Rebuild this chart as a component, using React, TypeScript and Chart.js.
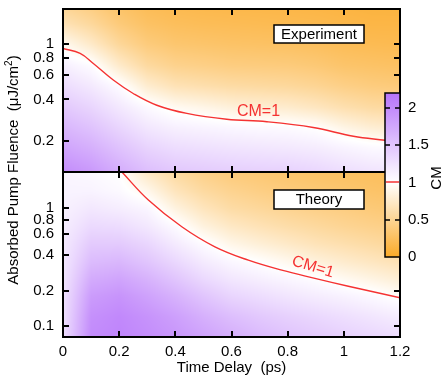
import React, { useEffect, useRef } from 'react';
import { Chart, registerables } from 'chart.js';

Chart.register(...registerables);

// ---------------- data ----------------
const timeDelays = [0, 0.1, 0.2, 0.3, 0.4, 0.5, 0.6, 0.7, 0.8, 0.9, 1.0, 1.1, 1.2];
const fluenceRows = [2, 1.4, 1, 0.7, 0.5, 0.35, 0.25, 0.18, 0.12, 0.08];

// CM values, one row per fluence (rows follow fluenceRows), columns follow timeDelays
const experimentCM = [
  [0.46, 0.38, 0.27, 0.20, 0.17, 0.155, 0.145, 0.14, 0.135, 0.125, 0.11, 0.10, 0.095],
  [0.66, 0.54, 0.38, 0.28, 0.24, 0.22, 0.21, 0.20, 0.19, 0.18, 0.16, 0.14, 0.14],
  [0.93, 0.75, 0.53, 0.39, 0.33, 0.31, 0.29, 0.28, 0.27, 0.25, 0.22, 0.20, 0.19],
  [1.14, 1.03, 0.76, 0.56, 0.47, 0.44, 0.41, 0.40, 0.39, 0.36, 0.31, 0.29, 0.27],
  [1.30, 1.19, 1.03, 0.78, 0.66, 0.62, 0.58, 0.56, 0.54, 0.50, 0.44, 0.40, 0.38],
  [1.47, 1.36, 1.20, 1.05, 0.94, 0.89, 0.83, 0.80, 0.77, 0.71, 0.63, 0.57, 0.54],
  [1.63, 1.52, 1.36, 1.21, 1.13, 1.10, 1.07, 1.05, 1.04, 1.00, 0.88, 0.80, 0.76],
  [1.78, 1.68, 1.52, 1.37, 1.29, 1.26, 1.23, 1.21, 1.19, 1.16, 1.10, 1.05, 1.03],
  [1.98, 1.88, 1.71, 1.56, 1.48, 1.45, 1.42, 1.40, 1.39, 1.35, 1.29, 1.24, 1.22],
  [2.17, 2.07, 1.90, 1.76, 1.68, 1.65, 1.61, 1.60, 1.58, 1.54, 1.48, 1.44, 1.41],
];

const theoryCM = [
  [1.08, 1.05, 1.00, 0.73, 0.56, 0.45, 0.38, 0.35, 0.32, 0.29, 0.27, 0.25, 0.23],
  [1.10, 1.10, 1.05, 0.91, 0.69, 0.56, 0.48, 0.43, 0.39, 0.36, 0.33, 0.30, 0.28],
  [1.12, 1.20, 1.15, 1.08, 0.85, 0.69, 0.58, 0.53, 0.48, 0.44, 0.41, 0.37, 0.34],
  [1.15, 1.32, 1.30, 1.20, 1.04, 0.85, 0.73, 0.66, 0.60, 0.55, 0.50, 0.46, 0.43],
  [1.18, 1.45, 1.45, 1.35, 1.18, 1.03, 0.89, 0.81, 0.74, 0.67, 0.62, 0.57, 0.52],
  [1.20, 1.58, 1.62, 1.50, 1.34, 1.18, 1.07, 1.00, 0.92, 0.84, 0.77, 0.71, 0.65],
  [1.22, 1.72, 1.78, 1.66, 1.50, 1.33, 1.21, 1.14, 1.08, 1.02, 0.94, 0.87, 0.80],
  [1.24, 1.85, 1.92, 1.80, 1.66, 1.50, 1.36, 1.29, 1.22, 1.16, 1.11, 1.05, 0.97],
  [1.26, 1.95, 2.02, 1.93, 1.82, 1.68, 1.56, 1.47, 1.40, 1.34, 1.28, 1.22, 1.16],
  [1.28, 2.00, 2.05, 1.98, 1.90, 1.80, 1.70, 1.60, 1.52, 1.46, 1.40, 1.35, 1.30],
];

// CM = 1 contour lines
const expContourT = [0, 0.061, 0.108, 0.179, 0.25, 0.334, 0.441, 0.583, 0.726, 0.891, 1.034, 1.147, 1.2];
const expContourF = [0.93, 0.857, 0.726, 0.551, 0.441, 0.363, 0.317, 0.288, 0.276, 0.251, 0.217, 0.203, 0.197];
const theoryContourT = [0.209, 0.304, 0.423, 0.541, 0.66, 0.779, 0.897, 1.016, 1.2];
const theoryContourF = [2.03, 1.17, 0.695, 0.47, 0.362, 0.298, 0.254, 0.218, 0.174];

// ticks
const xTicks = [0, 0.2, 0.4, 0.6, 0.8, 1, 1.2];
const topYTicks = [0.2, 0.4, 0.6, 0.8, 1];
const bottomYTicks = [0.1, 0.2, 0.4, 0.6, 0.8, 1];
const colorbarTicks = [0, 0.5, 1, 1.5, 2];
const colorbarMax = 2.2;

const FONT = '"Liberation Sans", Arial, Helvetica, sans-serif';
const RED = 'rgb(245,50,50)';

// ---------------- helpers ----------------
const ORANGE = [251, 170, 40];
const PURPLE = [182, 115, 250];
function cmColor(v: number): number[] {
  if (v <= 1) {
    const t = Math.min(1, Math.max(0, 1 - v));
    return [255 + (ORANGE[0] - 255) * t, 255 + (ORANGE[1] - 255) * t, 255 + (ORANGE[2] - 255) * t];
  }
  const t = Math.min(1, (v - 1) / (colorbarMax - 1));
  return [255 + (PURPLE[0] - 255) * t, 255 + (PURPLE[1] - 255) * t, 255 + (PURPLE[2] - 255) * t];
}

const rowLogs = fluenceRows.map((f) => Math.log10(f));

function sampleGrid(grid: number[][], t: number, lf: number): number {
  const n = timeDelays.length;
  let i = 0;
  if (t <= timeDelays[0]) i = 0;
  else if (t >= timeDelays[n - 1]) i = n - 2;
  else while (i < n - 2 && timeDelays[i + 1] < t) i++;
  const tx = Math.min(1, Math.max(0, (t - timeDelays[i]) / (timeDelays[i + 1] - timeDelays[i])));
  const m = rowLogs.length;
  let j = 0;
  if (lf >= rowLogs[0]) j = 0;
  else if (lf <= rowLogs[m - 1]) j = m - 2;
  else while (j < m - 2 && rowLogs[j + 1] > lf) j++;
  const ty = Math.min(1, Math.max(0, (rowLogs[j] - lf) / (rowLogs[j] - rowLogs[j + 1])));
  const a = grid[j][i] * (1 - tx) + grid[j][i + 1] * tx;
  const b = grid[j + 1][i] * (1 - tx) + grid[j + 1][i + 1] * tx;
  return a * (1 - ty) + b * ty;
}

const heatmapPlugin = {
  id: 'heatmap',
  beforeDatasetsDraw(chart: any) {
    const ctx = chart.ctx;
    const xs = chart.scales.x;
    const panels = [
      { ys: chart.scales.yTop, grid: experimentCM },
      { ys: chart.scales.yBot, grid: theoryCM },
    ];
    for (const p of panels) {
      const left = Math.round(xs.left);
      const right = Math.round(xs.right);
      const top = Math.round(p.ys.top);
      const bottom = Math.round(p.ys.bottom);
      const w = right - left;
      const h = bottom - top;
      const off = document.createElement('canvas');
      off.width = w;
      off.height = h;
      const octx = off.getContext('2d')!;
      const img = octx.createImageData(w, h);
      for (let py = 0; py < h; py++) {
        const f = p.ys.getValueForPixel(top + py + 0.5);
        const lf = Math.log10(f);
        for (let px = 0; px < w; px++) {
          const t = xs.getValueForPixel(left + px + 0.5);
          const c = cmColor(sampleGrid(p.grid, t, lf));
          const k = (py * w + px) * 4;
          img.data[k] = c[0];
          img.data[k + 1] = c[1];
          img.data[k + 2] = c[2];
          img.data[k + 3] = 255;
        }
      }
      octx.putImageData(img, 0, 0);
      ctx.drawImage(off, left, top);
    }
  },
  afterDatasetsDraw(chart: any) {
    const ctx = chart.ctx;
    const xs = chart.scales.x;
    const yT = chart.scales.yTop;
    const yB = chart.scales.yBot;
    const L = xs.left;
    const R = xs.right;
    ctx.save();
    // tick marks (inward)
    ctx.strokeStyle = '#000';
    ctx.lineWidth = 2;
    const tl = 6;
    ctx.beginPath();
    const yPairs: [any, number[]][] = [[yT, topYTicks], [yB, bottomYTicks]];
    for (const [ys, vals] of yPairs) {
      for (const v of vals) {
        const y = Math.round(ys.getPixelForValue(v));
        ctx.moveTo(L, y); ctx.lineTo(L + tl, y);
        ctx.moveTo(R, y); ctx.lineTo(R - tl, y);
      }
    }
    for (const v of xTicks) {
      if (v === xTicks[0] || v === xTicks[xTicks.length - 1]) continue;
      const x = Math.round(xs.getPixelForValue(v));
      ctx.moveTo(x, yT.top); ctx.lineTo(x, yT.top + tl);
      ctx.moveTo(x, yT.bottom); ctx.lineTo(x, yT.bottom - tl);
      ctx.moveTo(x, yB.top); ctx.lineTo(x, yB.top + tl);
      ctx.moveTo(x, yB.bottom); ctx.lineTo(x, yB.bottom - tl);
    }
    ctx.stroke();
    // frames
    ctx.strokeRect(L, yT.top, R - L, yT.bottom - yT.top);
    ctx.strokeRect(L, yB.top, R - L, yB.bottom - yB.top);

    // legend boxes
    ctx.lineWidth = 1.5;
    ctx.font = `15px ${FONT}`;
    ctx.textAlign = 'center';
    ctx.textBaseline = 'middle';
    const boxes: [string, number, number][] = [['Experiment', 25, 18], ['Theory', 190, 19]];
    for (const [label, by, bh] of boxes) {
      ctx.fillStyle = '#fff';
      ctx.fillRect(274, by, 90, bh);
      ctx.strokeRect(274, by, 90, bh);
      ctx.fillStyle = '#000';
      ctx.fillText(label, 319, by + bh / 2 + 0.5);
    }

    // CM=1 labels
    ctx.fillStyle = RED;
    ctx.font = `16px ${FONT}`;
    ctx.fillText('CM=1', 258.5, 112);
    ctx.save();
    ctx.translate(313, 267);
    ctx.rotate((17 * Math.PI) / 180);
    ctx.fillText('CM=1', 0, 0);
    ctx.restore();

    // colorbar
    const cx0 = R - 15;
    const cx1 = R;
    const cyTop = 93;
    const cyBot = 257;
    const vy = (v: number) => cyBot - (v / colorbarMax) * (cyBot - cyTop);
    const grad = ctx.createLinearGradient(0, cyBot, 0, cyTop);
    for (let s = 0; s <= 22; s++) {
      const v = (s / 22) * colorbarMax;
      const c = cmColor(v);
      grad.addColorStop(s / 22, `rgb(${c[0]},${c[1]},${c[2]})`);
    }
    ctx.fillStyle = grad;
    ctx.fillRect(cx0, cyTop, cx1 - cx0, cyBot - cyTop);
    ctx.strokeStyle = '#000';
    ctx.lineWidth = 1.5;
    ctx.strokeRect(cx0, cyTop, cx1 - cx0, cyBot - cyTop);
    ctx.beginPath();
    for (const v of colorbarTicks) {
      if (v === 0 || v === 1) continue;
      const y = Math.round(vy(v));
      ctx.moveTo(cx0, y); ctx.lineTo(cx0 + 5, y);
      ctx.moveTo(cx1, y); ctx.lineTo(cx1 - 5, y);
    }
    ctx.stroke();
    ctx.strokeStyle = RED;
    ctx.lineWidth = 1.5;
    ctx.beginPath();
    ctx.moveTo(cx0 + 1, Math.round(vy(1)));
    ctx.lineTo(cx1 - 1, Math.round(vy(1)));
    ctx.stroke();
    ctx.fillStyle = '#000';
    ctx.font = `15px ${FONT}`;
    ctx.textAlign = 'left';
    ctx.textBaseline = 'middle';
    for (const v of colorbarTicks) {
      ctx.fillText(String(v), R + 8, vy(v));
    }
    ctx.save();
    ctx.translate(437, 178);
    ctx.rotate(-Math.PI / 2);
    ctx.textAlign = 'center';
    ctx.fillText('CM', 0, 0);
    ctx.restore();

    // y-axis title with superscript
    ctx.save();
    ctx.translate(14, 170);
    ctx.rotate(-Math.PI / 2);
    ctx.textAlign = 'left';
    ctx.textBaseline = 'middle';
    const main = 'Absorbed Pump Fluence  (\u03bcJ/cm';
    ctx.font = `15px ${FONT}`;
    const w1 = ctx.measureText(main).width;
    ctx.font = `10px ${FONT}`;
    const w2 = ctx.measureText('2').width;
    ctx.font = `15px ${FONT}`;
    const w3 = ctx.measureText(')').width;
    const start = -(w1 + w2 + w3) / 2;
    ctx.fillText(main, start, 0);
    ctx.font = `10px ${FONT}`;
    ctx.fillText('2', start + w1, -5);
    ctx.font = `15px ${FONT}`;
    ctx.fillText(')', start + w1 + w2, 0);
    ctx.restore();

    ctx.restore();
  },
};

function fmt(v: number): string {
  return String(Number(v.toFixed(2)));
}

const yFit = (s: any) => {
  s.width = 63;
  s.paddingTop = 0;
  s.paddingBottom = 0;
};

export default function App() {
  const ref = useRef<HTMLCanvasElement | null>(null);
  useEffect(() => {
    if (!ref.current) return;
    const chart = new Chart(ref.current, {
      type: 'scatter',
      data: {
        datasets: [
          {
            label: 'Experiment CM=1',
            data: expContourT.map((t, i) => ({ x: t, y: expContourF[i] })),
            yAxisID: 'yTop',
            showLine: true,
            borderColor: RED,
            borderWidth: 1.4,
            pointRadius: 0,
            tension: 0.4,
          },
          {
            label: 'Theory CM=1',
            data: theoryContourT.map((t, i) => ({ x: t, y: theoryContourF[i] })),
            yAxisID: 'yBot',
            showLine: true,
            borderColor: RED,
            borderWidth: 1.4,
            pointRadius: 0,
            tension: 0.4,
          },
        ],
      },
      options: {
        animation: false,
        responsive: false,
        devicePixelRatio: 1,
        layout: { padding: { top: 9, right: 46, left: 0, bottom: 0 } },
        plugins: { legend: { display: false }, tooltip: { enabled: false } },
        scales: {
          x: {
            type: 'linear',
            position: 'bottom',
            min: 0,
            max: 1.2,
            grid: { display: false, drawTicks: false },
            border: { display: false },
            afterBuildTicks: (s: any) => { s.ticks = xTicks.map((v) => ({ value: v })); },
            afterFit: (s: any) => { s.height = 41; s.paddingLeft = 0; s.paddingRight = 0; },
            ticks: { color: '#000', font: { size: 15, family: FONT }, padding: 6, autoSkip: false, callback: (v: any) => fmt(Number(v)), maxRotation: 0 },
            title: { display: true, text: 'Time Delay  (ps)', color: '#000', font: { size: 15, family: FONT }, padding: { top: 0, bottom: 1 } },
          },
          yBot: {
            type: 'logarithmic',
            position: 'left',
            stack: 'panels',
            stackWeight: 165,
            min: 0.081,
            max: 2.02,
            bounds: 'data',
            grid: { display: false, drawTicks: false },
            border: { display: false },
            afterBuildTicks: (s: any) => { s.ticks = bottomYTicks.map((v) => ({ value: v })); },
            afterFit: yFit,
            ticks: { color: '#000', font: { size: 15, family: FONT }, padding: 9, autoSkip: false, callback: (v: any) => fmt(Number(v)) },
          },
          yTop: {
            type: 'logarithmic',
            position: 'left',
            stack: 'panels',
            stackWeight: 163,
            min: 0.12,
            max: 1.79,
            bounds: 'data',
            grid: { display: false, drawTicks: false },
            border: { display: false },
            afterBuildTicks: (s: any) => { s.ticks = topYTicks.map((v) => ({ value: v })); },
            afterFit: yFit,
            ticks: { color: '#000', font: { size: 15, family: FONT }, padding: 9, autoSkip: false, callback: (v: any) => fmt(Number(v)) },
          },
        },
      } as any,
      plugins: [heatmapPlugin],
    });
    return () => chart.destroy();
  }, []);
  return (
    <div style={{ position: 'fixed', left: 0, top: 0, width: 446, height: 378, background: '#fff' }}>
      <canvas ref={ref} width={446} height={378} style={{ width: 446, height: 378, display: 'block' }} />
    </div>
  );
}
